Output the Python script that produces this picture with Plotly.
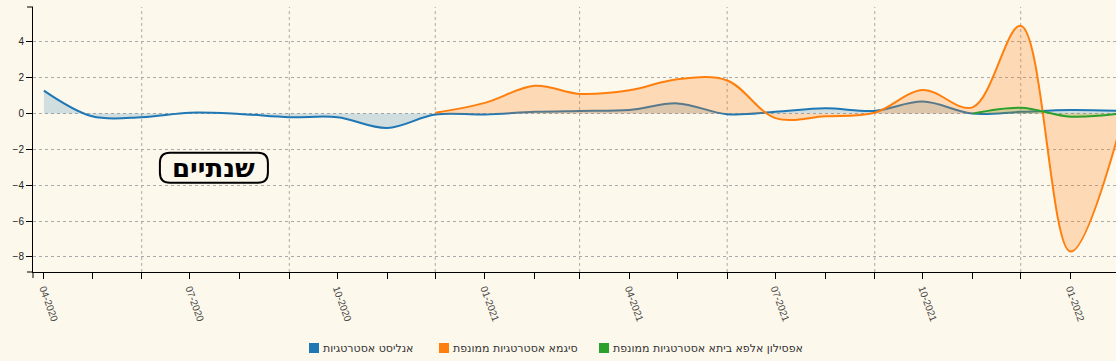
import plotly.graph_objects as go

# ---- data (monthly) ----
blue_dates = ["2020-04-01", "2020-05-01", "2020-06-01", "2020-07-01", "2020-08-01", "2020-09-01",
              "2020-10-01", "2020-11-01", "2020-12-01", "2021-01-01", "2021-02-01", "2021-03-01",
              "2021-04-01", "2021-05-01", "2021-06-01", "2021-07-01", "2021-08-01", "2021-09-01",
              "2021-10-01", "2021-11-01", "2021-12-01", "2022-01-01", "2022-02-01"]
blue_vals = [1.28, -0.15, -0.2, 0.05, -0.02, -0.2, -0.2, -0.8, -0.05, -0.05, 0.1, 0.15,
             0.2, 0.57, -0.03, 0.1, 0.3, 0.15, 0.67, 0.0, 0.1, 0.2, 0.15]

orange_dates = ["2020-12-01", "2021-01-01", "2021-02-01", "2021-03-01", "2021-04-01", "2021-05-01",
                "2021-06-01", "2021-07-01", "2021-08-01", "2021-09-01", "2021-10-01", "2021-11-01",
                "2021-12-01", "2022-01-01", "2022-02-01"]
orange_vals = [0.05, 0.6, 1.55, 1.1, 1.3, 1.92, 1.85, -0.25, -0.15, 0.05, 1.32, 0.35, 4.9, -7.7, -0.8]

green_dates = ["2021-11-01", "2021-12-01", "2022-01-01", "2022-02-01"]
green_vals = [0.0, 0.33, -0.17, 0.0]

series_names = ["אנליסט אסטרטגיות", "סיגמא אסטרטגיות ממונפת", "אפסילון אלפא ביתא אסטרטגיות ממונפת"]
series_colors = ["#1f77b4", "#ff7f0e", "#2ca02c"]
fill_colors = ["rgba(31,119,180,0.2)", "rgba(255,127,14,0.25)", "rgba(44,160,44,0.2)"]

label_ticks = ["2020-04-01", "2020-07-01", "2020-10-01", "2021-01-01", "2021-04-01", "2021-07-01",
               "2021-10-01", "2022-01-01"]
label_texts = ["04-2020", "07-2020", "10-2020", "01-2021", "04-2021", "07-2021", "10-2021", "01-2022"]
grid_dates = ["2020-06-01", "2020-09-01", "2020-12-01", "2021-03-01", "2021-06-01", "2021-09-01",
              "2021-12-01"]
y_ticks = [4, 2, 0, -2, -4, -6, -8]
period_label = "שנתיים"

# ---- layout constants ----
BG = "#fdf8ec"
FONT = "Liberation Sans, Arial, sans-serif"
W, H = 1116, 361
ML, MR, MT, MB = 33, 0, 7, 89
PW, PH = W - ML - MR, H - MT - MB
LEGEND_SQ_PX = [309, 439, 599]   # left edge of each legend square (page px)
LEGEND_Y_PX = 348


def px_to_paper_x(px):
    return (px - ML) / PW


def px_to_paper_y(py):
    return (H - MB - py) / PH


fig = go.Figure()
for dates, vals, name, col, fcol in zip([blue_dates, orange_dates, green_dates],
                                        [blue_vals, orange_vals, green_vals],
                                        series_names, series_colors, fill_colors):
    fig.add_trace(go.Scatter(x=dates, y=vals, mode="lines", name=name,
                             line=dict(color=col, width=2, shape="spline", smoothing=1),
                             fill="tozeroy", fillcolor=fcol, showlegend=False,
                             hoverinfo="x+y"))

shapes = []
annotations = []
for d in grid_dates:
    shapes.append(dict(type="line", xref="x", yref="paper", x0=d, x1=d, y0=0, y1=1,
                       line=dict(color="#aaaaaa", width=1, dash="3px,3px"), layer="below"))
# outer domain ticks (top/bottom of y axis, left end of x axis)
for ya in (0, 1):
    shapes.append(dict(type="line", xref="paper", yref="paper", xsizemode="pixel", xanchor=0,
                       x0=-6, x1=0, y0=ya, y1=ya, line=dict(color="black", width=1)))
shapes.append(dict(type="line", xref="paper", yref="paper", ysizemode="pixel", yanchor=0,
                   x0=0, x1=0, y0=-6, y1=0, line=dict(color="black", width=1)))

# rounded box + period label
shapes.append(dict(type="path", xref="x", yref="y", xsizemode="pixel", ysizemode="pixel",
                   xanchor="2020-07-16", yanchor=-3.02,
                   path="M -44,-15 L 44,-15 Q 54,-15 54,-5 L 54,5 Q 54,15 44,15 L -44,15 "
                        "Q -54,15 -54,5 L -54,-5 Q -54,-15 -44,-15 Z",
                   line=dict(color="black", width=2), fillcolor=BG, layer="above"))
annotations.append(dict(x="2020-07-16", y=-3.02, xref="x", yref="y",
                        text="<b>" + period_label + "</b>", showarrow=False,
                        font=dict(family="DejaVu Sans, sans-serif", size=26, color="black")))

# legend (square + text)
ly = px_to_paper_y(LEGEND_Y_PX)
for sx, name, col in zip(LEGEND_SQ_PX, series_names, series_colors):
    shapes.append(dict(type="rect", xref="paper", yref="paper", xsizemode="pixel", ysizemode="pixel",
                       xanchor=px_to_paper_x(sx), yanchor=ly, x0=0, x1=10, y0=-5, y1=5,
                       line=dict(width=0), fillcolor=col))
    annotations.append(dict(x=px_to_paper_x(sx + 12), y=ly, xref="paper", yref="paper",
                            xanchor="left", yanchor="middle", text=name, showarrow=False,
                            font=dict(family="DejaVu Sans, sans-serif", size=11, color="#333")))

fig.update_layout(
    width=W, height=H,
    margin=dict(l=ML, r=MR, t=MT, b=MB, autoexpand=False),
    paper_bgcolor=BG, plot_bgcolor=BG,
    font=dict(family=FONT, size=10, color="#333"),
    showlegend=False,
    shapes=shapes,
    annotations=annotations,
    xaxis=dict(type="date", range=["2020-03-25 05:00", "2022-01-29 10:00"], automargin=False,
               tickmode="array", tickvals=label_ticks, ticktext=label_texts,
               tickangle=70, ticks="outside", ticklen=6, tickcolor="black",
               showline=True, linecolor="black", linewidth=1, showgrid=False, zeroline=False,
               tickfont=dict(size=10, color="#444"),
               minor=dict(dtick="M1", tick0="2020-04-01", ticks="outside", ticklen=6,
                          tickcolor="black", showgrid=False)),
    yaxis=dict(range=[-8.84, 5.95], tickmode="array", tickvals=y_ticks, automargin=False,
               ticks="outside", ticklen=6, tickcolor="black",
               showline=True, linecolor="black", linewidth=1,
               showgrid=True, gridcolor="#aaaaaa", griddash="3px,3px", gridwidth=1,
               zeroline=False, tickfont=dict(size=10, color="#222")),
)

fig.write_html("out.html", config={"displayModeBar": False},
               post_script="document.body.style.margin='0';document.body.style.padding='0';"
                           "document.body.style.background='" + BG + "';")
